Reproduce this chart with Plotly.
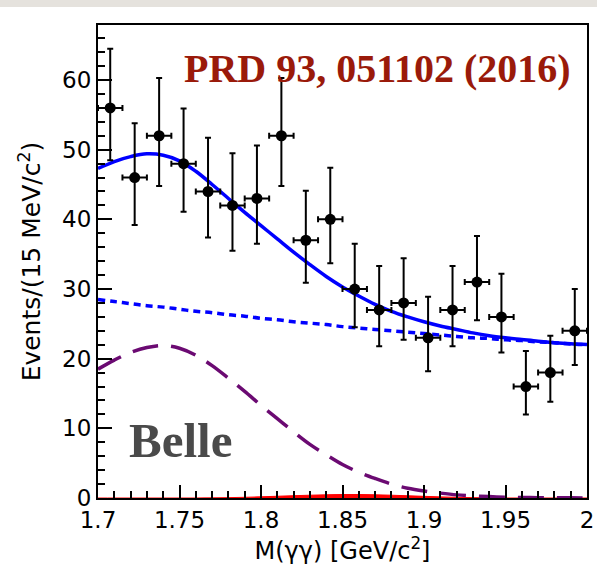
import plotly.graph_objects as go

# ---- data ----
bin_centers = [1.7075, 1.7225, 1.7375, 1.7525, 1.7675, 1.7825, 1.7975, 1.8125, 1.8275, 1.8425,
               1.8575, 1.8725, 1.8875, 1.9025, 1.9175, 1.9325, 1.9475, 1.9625, 1.9775, 1.9925]
events = [56, 46, 52, 48, 44, 42, 43, 52, 37, 40, 30, 27, 28, 23, 27, 31, 26, 16, 18, 24]
err_up = [8.5, 7.8, 8.3, 7.9, 7.7, 7.5, 7.6, 8.3, 7.1, 7.4, 6.5, 6.3, 6.4, 5.9, 6.3, 6.6, 6.2, 5.1, 5.3, 6.0]
err_dn = [7.5, 6.8, 7.2, 6.9, 6.6, 6.5, 6.5, 7.2, 6.1, 6.3, 5.5, 5.2, 5.3, 4.8, 5.2, 5.5, 5.1, 4.0, 4.2, 4.9]
half_bin = [0.0075] * 20

curve_x = [1.70, 1.71, 1.72, 1.73, 1.74, 1.75, 1.76, 1.77, 1.78, 1.79, 1.80,
           1.81, 1.82, 1.83, 1.84, 1.85, 1.86, 1.87, 1.88, 1.89, 1.90,
           1.91, 1.92, 1.93, 1.94, 1.95, 1.96, 1.97, 1.98, 1.99, 2.00]
total_fit = [47.3, 48.3, 49.0, 49.4, 49.2, 48.4, 46.9, 45.0, 43.0, 41.0, 39.1,
             37.2, 35.3, 33.5, 31.8, 30.3, 29.0, 27.8, 26.8, 26.0, 25.3,
             24.7, 24.2, 23.7, 23.3, 23.0, 22.75, 22.5, 22.3, 22.15, 22.05]
background = [28.5, 28.2, 27.9, 27.6, 27.4, 27.1, 26.8, 26.6, 26.3, 26.1, 25.8,
              25.6, 25.3, 25.1, 24.9, 24.6, 24.4, 24.2, 24.0, 23.8, 23.6,
              23.4, 23.2, 23.0, 22.9, 22.7, 22.6, 22.4, 22.3, 22.1, 22.0]
broad_comp = [18.5, 19.8, 20.9, 21.6, 21.9, 21.5, 20.5, 19.0, 17.2, 15.3, 13.3,
              11.4, 9.5, 7.7, 6.2, 4.8, 3.7, 2.8, 2.0, 1.4, 1.0,
              0.7, 0.45, 0.3, 0.2, 0.12, 0.08, 0.05, 0.03, 0.02, 0.01]
signal_comp = [0, 0, 0, 0, 0, 0, 0, 0.02, 0.05, 0.1, 0.17,
               0.25, 0.33, 0.4, 0.46, 0.5, 0.5, 0.46, 0.4, 0.32, 0.24,
               0.16, 0.1, 0.05, 0.02, 0, 0, 0, 0, 0, 0]

x_ticks = [1.7, 1.75, 1.8, 1.85, 1.9, 1.95, 2.0]
x_tick_text = ["1.7", "1.75", "1.8", "1.85", "1.9", "1.95", "2"]
y_ticks = [0, 10, 20, 30, 40, 50, 60]

fig = go.Figure()

fig.add_trace(go.Scatter(x=curve_x, y=signal_comp, mode="lines", line=dict(color="#ff0000", width=1, shape="spline"),
                         fill="tozeroy", fillcolor="#ff0000", hoverinfo="skip"))
fig.add_trace(go.Scatter(x=curve_x, y=broad_comp, mode="lines",
                         line=dict(color="#6b0a72", width=3.5, dash="26px,13px", shape="spline")))
fig.add_trace(go.Scatter(x=curve_x, y=background, mode="lines",
                         line=dict(color="#0000ff", width=3.5, dash="7px,5px", shape="spline")))
fig.add_trace(go.Scatter(x=curve_x, y=total_fit, mode="lines",
                         line=dict(color="#0000ff", width=3.5, shape="spline")))
fig.add_trace(go.Scatter(
    x=bin_centers, y=events, mode="markers",
    marker=dict(color="black", size=11),
    error_y=dict(type="data", symmetric=False, array=err_up, arrayminus=err_dn,
                 color="black", thickness=2, width=3),
    error_x=dict(type="data", array=half_bin, color="black", thickness=2, width=3),
))

fig.add_annotation(x=1.7515, y=61.7, xref="x", yref="y", text="PRD 93, 051102 (2016)",
                   showarrow=False, xanchor="left", yanchor="middle",
                   font=dict(family="Liberation Serif", size=40, color="#9a1a0a", weight="bold"))
fig.add_annotation(x=1.7175, y=8.2, xref="x", yref="y", text="Belle",
                   showarrow=False, xanchor="left", yanchor="middle",
                   font=dict(family="Liberation Serif", size=49, color="#4a4a4a", weight="bold"))

# gray slide band at the very top
fig.add_shape(type="rect", xref="paper", yref="paper", x0=-0.25, x1=1.05,
              y0=1 + 18 / 473, y1=1 + 26 / 473,
              fillcolor="#e5e2dd", line=dict(width=0), layer="below")

fig.update_layout(
    width=597, height=582,
    margin=dict(l=98, r=10, t=25, b=84, autoexpand=False),
    paper_bgcolor="white", plot_bgcolor="white",
    showlegend=False,
    font=dict(family="DejaVu Sans", color="black"),
)
fig.update_xaxes(
    range=[1.7, 2.0], tickvals=x_ticks, ticktext=x_tick_text, automargin=False,
    ticks="inside", ticklen=13, tickwidth=2, tickcolor="black",
    minor=dict(dtick=0.01, tick0=1.7, ticks="inside", ticklen=7, tickwidth=2, tickcolor="black"),
    showline=True, linecolor="black", linewidth=2, mirror=True,
    showgrid=False, zeroline=False,
    tickfont=dict(size=23, family="DejaVu Sans"),
    title=dict(text="M(γγ) [GeV/c<sup>2</sup>]", font=dict(size=24, family="DejaVu Sans"), standoff=8),
)
fig.update_yaxes(
    range=[0, 67.9], tickvals=y_ticks, automargin=False,
    ticks="inside", ticklen=14, tickwidth=2, tickcolor="black",
    minor=dict(dtick=2, tick0=0, ticks="inside", ticklen=7, tickwidth=2, tickcolor="black"),
    showline=True, linecolor="black", linewidth=2, mirror=True,
    showgrid=False, zeroline=False,
    tickfont=dict(size=23, family="DejaVu Sans"),
    title=dict(text="Events/(15 MeV/c<sup>2</sup>)", font=dict(size=25, family="DejaVu Sans"), standoff=14),
)

fig.write_html("out.html", config={"displayModeBar": False},
               post_script="document.body.style.margin='0px';document.body.style.overflow='hidden';")
